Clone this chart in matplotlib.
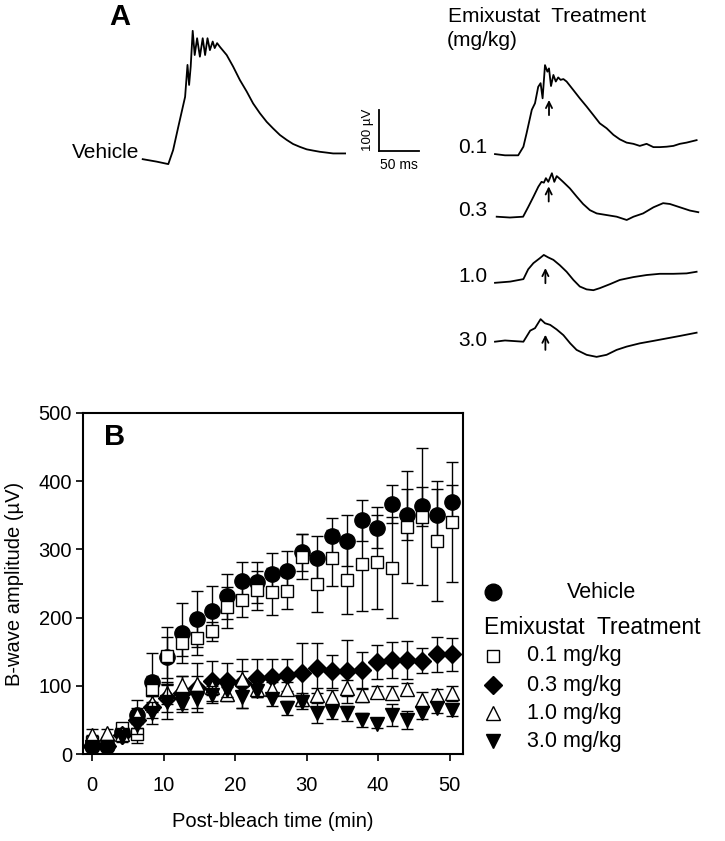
import matplotlib
matplotlib.use("Agg")
import matplotlib.pyplot as plt
from matplotlib.lines import Line2D

plt.rcParams['font.family'] = ['Liberation Sans', 'DejaVu Sans']

W, H = 725, 841

# ---------------- Panel B data ----------------
time_min = [0, 2.1, 4.2, 6.3, 8.4, 10.5, 12.6, 14.7, 16.8, 18.9, 21.0, 23.1, 25.2,
            27.3, 29.4, 31.5, 33.6, 35.7, 37.8, 39.9, 42.0, 44.1, 46.2, 48.3, 50.4]

vehicle = [12, 11, 32, 57, 105, 142, 177, 198, 209, 231, 253, 252, 264,
           269, 296, 288, 320, 313, 343, 332, 367, 351, 363, 351, 370]
vehicle_err = [8, 6, 10, 22, 43, 30, 44, 41, 38, 33, 29, 30, 31,
               29, 27, 32, 26, 37, 30, 30, 28, 37, 28, 37, 24]

dose01 = [18, 14, 38, 30, 94, 144, 163, 170, 180, 215, 226, 240, 238,
          239, 289, 249, 287, 255, 278, 282, 273, 333, 348, 312, 340]
dose01_err = [10, 6, 8, 14, 20, 42, 20, 25, 14, 30, 25, 29, 34,
              27, 33, 41, 41, 50, 68, 69, 74, 82, 100, 88, 88]

dose03 = [12, 12, 28, 50, 69, 82, 90, 97, 107, 107, 104, 111, 113,
          116, 119, 126, 121, 121, 123, 135, 138, 138, 137, 146, 146]
dose03_err = [8, 6, 8, 12, 16, 20, 24, 36, 30, 26, 36, 28, 27,
              24, 44, 37, 24, 46, 26, 25, 26, 28, 18, 26, 24]

dose10 = [28, 31, 30, 57, 75, 89, 101, 102, 98, 88, 110, 96, 96,
          96, 80, 87, 84, 97, 86, 91, 90, 96, 79, 86, 89]
dose10_err = [8, 6, 8, 10, 12, 16, 14, 12, 12, 10, 12, 10, 10,
              10, 10, 10, 10, 12, 10, 8, 10, 8, 12, 10, 11]

dose30 = [10, 10, 25, 42, 60, 76, 74, 80, 87, 94, 84, 93, 80,
          67, 76, 60, 62, 60, 50, 44, 57, 50, 60, 68, 64]
dose30_err = [6, 6, 8, 12, 16, 25, 12, 12, 12, 10, 16, 10, 10,
              10, 10, 15, 10, 11, 10, 6, 16, 13, 8, 8, 8]

legend_labels = ["Vehicle", "0.1 mg/kg", "0.3 mg/kg", "1.0 mg/kg", "3.0 mg/kg"]
legend_title = "Emixustat  Treatment"
x_ticks = [0, 10, 20, 30, 40, 50]
y_ticks = [0, 100, 200, 300, 400, 500]

# ---------------- Panel A data (ERG traces; ms, µV from baseline) ----------------
veh_t = [0, 17.5, 32, 38, 44.5, 53, 56, 58, 60, 62.5, 65, 68, 71.5, 75, 78, 81, 84,
         87.5, 90, 93, 96.5, 105, 113, 121.5, 130, 138, 146.5, 155, 163, 171.5, 180,
         188, 196.5, 205, 213, 221.5, 230, 238, 253]
veh_v = [2, -4, -10, 24, 81, 154, 232, 183, 228, 315, 256, 297, 252, 297, 256, 297, 268,
         289, 273, 285, 276, 256, 228, 195, 167, 138, 114, 93, 77, 61, 49,
         39, 32, 26, 23, 20, 18, 16, 16]

d01_t = [0, 12.5, 29, 35.5, 39.5, 46, 50, 54, 57, 59.5, 62.5, 65.5, 67.5, 70, 73, 76, 79,
         82, 85.5, 89.5, 98, 106, 114.5, 123, 131, 139.5, 148, 156, 164.5, 173, 181,
         189.5, 198, 206, 214.5, 223, 231, 239.5, 252]
d01_v = [1, -2, -2, 19, 52, 109, 125, 165, 174, 137, 218, 202, 210, 167, 194, 178, 188,
         182, 184, 178, 157, 137, 117, 96, 76, 64, 48, 37, 29, 26, 21,
         26, 18, 18, 19, 21, 26, 29, 35]

d03_t = [0, 16.5, 33, 39.5, 46, 52, 56, 59, 61.5, 64.5, 69, 72, 75, 78, 83, 91.5, 100,
         108, 116.5, 125, 137.5, 150, 162.5, 171, 183, 196, 208, 216.5, 229, 241.5, 252]
d03_v = [0, -2, 0, 24, 49, 73, 85, 83, 94, 85, 106, 85, 99, 94, 85, 69, 49,
         31, 16, 8, 4, 0, -8, 0, 8, 23, 33, 31, 23, 15, 11]

d10_t = [0, 19, 35.5, 41.5, 48, 56, 61, 66.5, 73, 81, 89.5, 98, 106, 114.5, 123, 131,
         144, 156, 173, 189.5, 206, 223, 239.5, 252]
d10_v = [-2, 1, 7, 31, 46, 58, 66, 60, 54, 41, 25, 5, -11, -18, -20, -15,
         -5, 5, 12, 17, 20, 20, 21, 25]

d30_t = [0, 12.5, 35.5, 44, 50, 57, 62.5, 69, 77, 85.5, 94, 102, 114.5, 127, 139.5, 152,
         164.5, 181, 198, 214.5, 231, 252]
d30_v = [0, 3, 0, 27, 33, 55, 45, 41, 30, 16, -4, -20, -32, -37, -32, -20,
         -12, -4, 2, 8, 14, 22]

trace_labels = ["Vehicle", "0.1", "0.3", "1.0", "3.0"]
arrow_t = [67.5, 65, 63, 63]        # ms, arrow position on each treated trace
arrow_base = [96, 37, -3, -20]      # µV, tail of arrow
arrow_len = 37                      # µV

# ---------------- Figure ----------------
fig = plt.figure(figsize=(W / 100, H / 100), dpi=100)


def fpos(x, y):
    return x / W, 1 - y / H


# ---- Panel A: axes in physical units (ms horizontally, µV vertically) ----
MS_PER_PX = 1.25
UV_PER_PX = 100 / 41.0
axA = fig.add_axes([0, 0, 1, 1], zorder=0)
axA.set_xlim(0, W * MS_PER_PX)
axA.set_ylim(0, H * UV_PER_PX)
axA.axis('off')
axA.patch.set_alpha(0)


def origin(xpx, ypx):
    return xpx * MS_PER_PX, (H - ypx) * UV_PER_PX


traces = [(veh_t, veh_v, (142.7, 160.0)),
          (d01_t, d01_v, (495.0, 154.5)),
          (d03_t, d03_v, (496.7, 216.7)),
          (d10_t, d10_v, (495.0, 282.0)),
          (d30_t, d30_v, (495.0, 341.7))]
for t, v, (xp, yp) in traces:
    t0, v0 = origin(xp, yp)
    axA.plot([t0 + ti for ti in t], [v0 + vi for vi in v], color='black', lw=1.3,
             solid_joinstyle='round')

for k, (t, v, (xp, yp)) in enumerate(traces[1:]):
    t0, v0 = origin(xp, yp)
    axA.annotate('', xy=(t0 + arrow_t[k], v0 + arrow_base[k] + arrow_len),
                 xytext=(t0 + arrow_t[k], v0 + arrow_base[k]),
                 arrowprops=dict(arrowstyle='->', lw=1.3, color='black',
                                 mutation_scale=11, shrinkA=0, shrinkB=0))

# scale bar: 100 µV, 50 ms
sb_t0, sb_v0 = origin(379.3, 151)
axA.plot([sb_t0, sb_t0], [sb_v0, sb_v0 + 100], color='black', lw=1.3)
axA.plot([sb_t0, sb_t0 + 50], [sb_v0, sb_v0], color='black', lw=1.3)
fig.text(*fpos(368, 130), "100 µV", rotation=90, ha='center', va='center', fontsize=9.5)
fig.text(*fpos(399, 165), "50 ms", ha='center', va='center', fontsize=10)

# trace labels
fig.text(*fpos(139, 152), trace_labels[0], ha='right', va='center', fontsize=15)
for lab, yp in zip(trace_labels[1:], [147.5, 211, 276, 341]):
    fig.text(*fpos(487, yp), lab, ha='right', va='center', fontsize=15)
fig.text(*fpos(448, 16), "Emixustat  Treatment", ha='left', va='center', fontsize=15)
fig.text(*fpos(447, 41), "(mg/kg)", ha='left', va='center', fontsize=15)
fig.text(*fpos(120, 17), "A", ha='center', va='center', fontsize=21, fontweight='bold')

# ---- Panel B ----
axB = fig.add_axes([83 / W, 1 - 754 / H, 380 / W, 341 / H], zorder=2)
styles = [
    (vehicle, vehicle_err, dict(marker='o', ms=11, mfc='black')),
    (dose01, dose01_err, dict(marker='s', ms=9.2, mfc='white')),
    (dose03, dose03_err, dict(marker='D', ms=8.8, mfc='black')),
    (dose10, dose10_err, dict(marker='^', ms=10.5, mfc='white')),
    (dose30, dose30_err, dict(marker='v', ms=10.5, mfc='black')),
]
for z, (vals, errs, st) in enumerate(styles):
    axB.errorbar(time_min, vals, yerr=errs, fmt='none', ecolor='black',
                 elinewidth=1.0, capsize=4.3, capthick=1.0, zorder=3 + 2 * z)
    axB.plot(time_min, vals, linestyle='none', marker=st['marker'], ms=st['ms'],
             mfc=st['mfc'], mec='black', mew=1.0, zorder=4 + 2 * z)

axB.set_xlim(-1.26, 51.87)
axB.set_ylim(0, 500)
axB.set_xticks(x_ticks)
axB.set_yticks(y_ticks)
for s in axB.spines.values():
    s.set_linewidth(1.5)
axB.tick_params(direction='out', length=5, width=1.2, labelsize=14.5)
axB.tick_params(axis='x', pad=11)
axB.tick_params(axis='y', pad=3)
axB.set_xlabel("Post-bleach time (min)", fontsize=14.5, labelpad=12)
axB.set_ylabel("B-wave amplitude (µV)", fontsize=14.5, labelpad=10)
axB.text(0.055, 0.93, "B", transform=axB.transAxes, fontsize=21, fontweight='bold',
         ha='left', va='center')

# ---- Legend for panel B ----
leg_markers = [('o', 12, 'black', 592), ('s', 9.2, 'white', 656), ('D', 8.8, 'black', 685),
               ('^', 10.5, 'white', 713), ('v', 10.5, 'black', 741)]
for (m, ms, fc, yp), lab in zip(leg_markers, legend_labels):
    fx, fy = fpos(493, yp)
    fig.add_artist(Line2D([fx], [fy], marker=m, ms=ms, mfc=fc, mec='black', mew=1.0,
                          linestyle='none', transform=fig.transFigure))
    tx = 567 if lab == "Vehicle" else 527
    fig.text(*fpos(tx, yp), lab, ha='left', va='center', fontsize=15.5)
fig.text(*fpos(484, 627), legend_title, ha='left', va='center', fontsize=16.5)

fig.savefig("out.png", dpi=100)
